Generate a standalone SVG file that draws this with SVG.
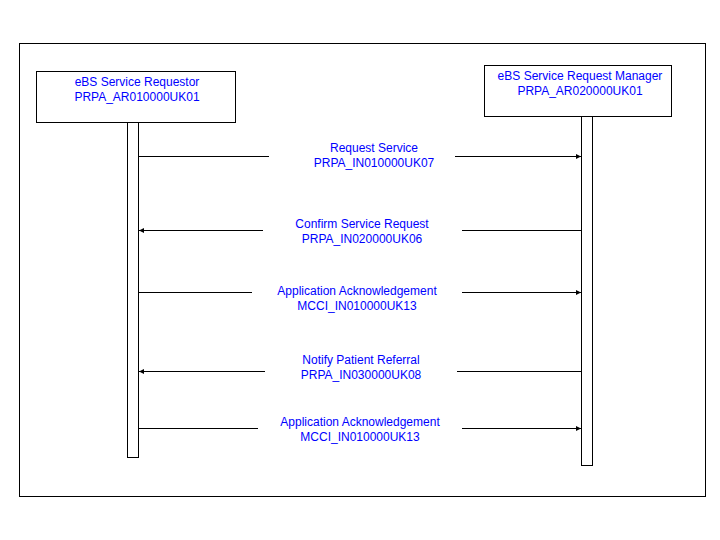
<svg xmlns="http://www.w3.org/2000/svg" width="720" height="540" viewBox="0 0 720 540">
<defs>
<style>
.box{fill:#fff;stroke:#000;stroke-width:1}
.ln{stroke:#000;stroke-width:1;fill:none}
.t{font-family:"Liberation Sans",Arial,sans-serif;font-size:12px;fill:#0000ff;text-anchor:middle}
</style>
<marker id="ah" markerWidth="6" markerHeight="6" refX="5" refY="3" orient="auto" markerUnits="userSpaceOnUse">
<path d="M0,0.5 L5,3 L0,5.5 Z" fill="#000"/>
</marker>
</defs>
<rect x="0" y="0" width="720" height="540" fill="#fff"/>
<rect id="frame" class="box" x="19.5" y="43.5" width="686" height="453"/>
<g id="requestor">
<rect class="box" x="36.5" y="71.5" width="199" height="51"/>
<text class="t" x="137" y="86">eBS Service Requestor</text>
<text class="t" x="137" y="101">PRPA_AR010000UK01</text>
<rect class="box" x="127.5" y="122.5" width="11" height="335"/>
</g>
<g id="manager">
<rect class="box" x="484.5" y="65.5" width="187" height="51"/>
<text class="t" x="580" y="80">eBS Service Request Manager</text>
<text class="t" x="580" y="95">PRPA_AR020000UK01</text>
<rect class="box" x="581.5" y="116.5" width="11" height="349"/>
</g>
<g id="connectors">
<line class="ln" x1="139" y1="156.5" x2="269" y2="156.5"/>
<line class="ln" x1="455" y1="156.5" x2="581" y2="156.5" marker-end="url(#ah)"/>
<line class="ln" x1="581" y1="230.5" x2="462" y2="230.5"/>
<line class="ln" x1="263" y1="230.5" x2="139" y2="230.5" marker-end="url(#ah)"/>
<line class="ln" x1="139" y1="292.5" x2="252" y2="292.5"/>
<line class="ln" x1="462" y1="292.5" x2="581" y2="292.5" marker-end="url(#ah)"/>
<line class="ln" x1="581" y1="371.5" x2="457" y2="371.5"/>
<line class="ln" x1="265" y1="371.5" x2="139" y2="371.5" marker-end="url(#ah)"/>
<line class="ln" x1="139" y1="428.5" x2="258" y2="428.5"/>
<line class="ln" x1="462" y1="428.5" x2="581" y2="428.5" marker-end="url(#ah)"/>
</g>
<g id="labels">
<text class="t" x="374" y="152">Request Service</text>
<text class="t" x="374" y="167">PRPA_IN010000UK07</text>
<text class="t" x="362" y="228">Confirm Service Request</text>
<text class="t" x="362" y="243">PRPA_IN020000UK06</text>
<text class="t" x="357" y="295">Application Acknowledgement</text>
<text class="t" x="357" y="310">MCCI_IN010000UK13</text>
<text class="t" x="361" y="364">Notify Patient Referral</text>
<text class="t" x="361" y="379">PRPA_IN030000UK08</text>
<text class="t" x="360" y="426">Application Acknowledgement</text>
<text class="t" x="360" y="441">MCCI_IN010000UK13</text>
</g>
</svg>
